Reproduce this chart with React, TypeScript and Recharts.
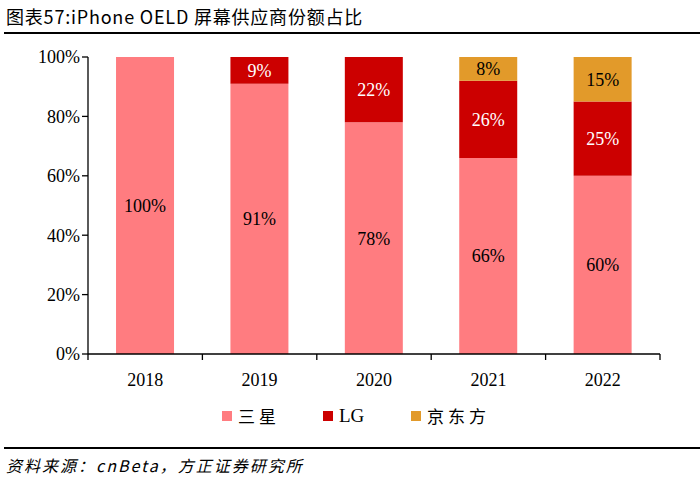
import React from 'react';
import { BarChart, Bar, XAxis, YAxis, LabelList } from 'recharts';

const years = ['2018', '2019', '2020', '2021', '2022'];
const samsung = [100, 91, 78, 66, 60];
const lg = [null, 9, 22, 26, 25];
const boe = [null, null, null, 8, 15];
const yTicks = [0, 20, 40, 60, 80, 100];

const COLORS = { samsung: '#FF7C80', lg: '#CC0000', boe: '#E29A2A' };
const SERIF = '"Liberation Serif", "Times New Roman", serif';
const CJK = '"Noto Sans CJK SC", sans-serif';

const data = years.map((year, i) => ({
  year,
  samsung: samsung[i],
  lg: lg[i],
  boe: boe[i],
}));

const BAND = 114.4;

const XTick = (props: any) => {
  const { x, y, payload, index } = props;
  const half = BAND / 2;
  return (
    <g>
      <line x1={x - half} y1={y - 8} x2={x - half} y2={y - 2} stroke="#000" strokeWidth={1.3} />
      {index === years.length - 1 && (
        <line x1={x + half} y1={y - 8} x2={x + half} y2={y - 2} stroke="#000" strokeWidth={1.3} />
      )}
      <text x={x} y={y + 24} textAnchor="middle" fontFamily={SERIF} fontSize={18} fill="#000">
        {payload.value}
      </text>
    </g>
  );
};

const fmt = (v: any) => (v == null || v === 0 ? '' : `${v}%`);

const legendItems = [
  { name: '三星', color: COLORS.samsung, left: 222, font: CJK },
  { name: 'LG', color: COLORS.lg, left: 323, font: SERIF },
  { name: '京东方', color: COLORS.boe, left: 411, font: CJK },
];

export default function App() {
  return (
    <div style={{ position: 'absolute', left: 0, top: 0, width: 700, height: 480, background: '#fff', overflow: 'hidden' }}>
      <div style={{ position: 'absolute', left: 6, top: 3, fontFamily: CJK, fontSize: 18, letterSpacing: 0.8, color: '#000', whiteSpace: 'nowrap' }}>
        图表57:iPhone OELD 屏幕供应商份额占比
      </div>
      <div style={{ position: 'absolute', left: 4, top: 32, width: 696, height: 2, background: '#000' }} />

      <div style={{ position: 'absolute', left: 0, top: 0 }}>
        <BarChart
          width={700}
          height={480}
          data={data}
          margin={{ top: 57, right: 40, left: 28, bottom: 96 }}
          barCategoryGap="24.5%"
        >
          <XAxis
            dataKey="year"
            height={30}
            axisLine={{ stroke: '#000', strokeWidth: 1.3 }}
            tickLine={false}
            tick={<XTick />}
            interval={0}
          />
          <YAxis
            width={60}
            domain={[0, 100]}
            ticks={yTicks}
            tickFormatter={(v) => `${v}%`}
            axisLine={{ stroke: '#000', strokeWidth: 1.3 }}
            tickLine={{ stroke: '#000', strokeWidth: 1.3 }}
            tickSize={6}
            tick={{ fill: '#000', fontFamily: SERIF, fontSize: 18 }}
          />
          <Bar dataKey="samsung" stackId="a" fill={COLORS.samsung} isAnimationActive={false}>
            <LabelList dataKey="samsung" position="center" formatter={fmt} fill="#000" fontFamily={SERIF} fontSize={18} />
          </Bar>
          <Bar dataKey="lg" stackId="a" fill={COLORS.lg} isAnimationActive={false}>
            <LabelList dataKey="lg" position="center" formatter={fmt} fill="#fff" fontFamily={SERIF} fontSize={18} />
          </Bar>
          <Bar dataKey="boe" stackId="a" fill={COLORS.boe} isAnimationActive={false}>
            <LabelList dataKey="boe" position="center" formatter={fmt} fill="#000" fontFamily={SERIF} fontSize={18} />
          </Bar>
        </BarChart>
      </div>

      {legendItems.map((item) => (
        <div key={item.name} style={{ position: 'absolute', left: item.left, top: 403, height: 26, display: 'flex', alignItems: 'center', whiteSpace: 'nowrap' }}>
          <span style={{ display: 'inline-block', width: 10, height: 10, background: item.color, marginRight: 6 }} />
          <span style={{ fontFamily: item.font, fontSize: item.font === CJK ? 17 : 19, lineHeight: '26px', color: '#000', letterSpacing: item.font === CJK ? 4 : 0 }}>{item.name}</span>
        </div>
      ))}

      <div style={{ position: 'absolute', left: 4, top: 447, width: 696, height: 2, background: '#000' }} />
      <div style={{ position: 'absolute', left: 6, top: 453, fontFamily: CJK, fontStyle: 'italic', fontSize: 16, letterSpacing: 2, color: '#000', whiteSpace: 'nowrap' }}>
        资料来源：cnBeta，方正证券研究所
      </div>
    </div>
  );
}
